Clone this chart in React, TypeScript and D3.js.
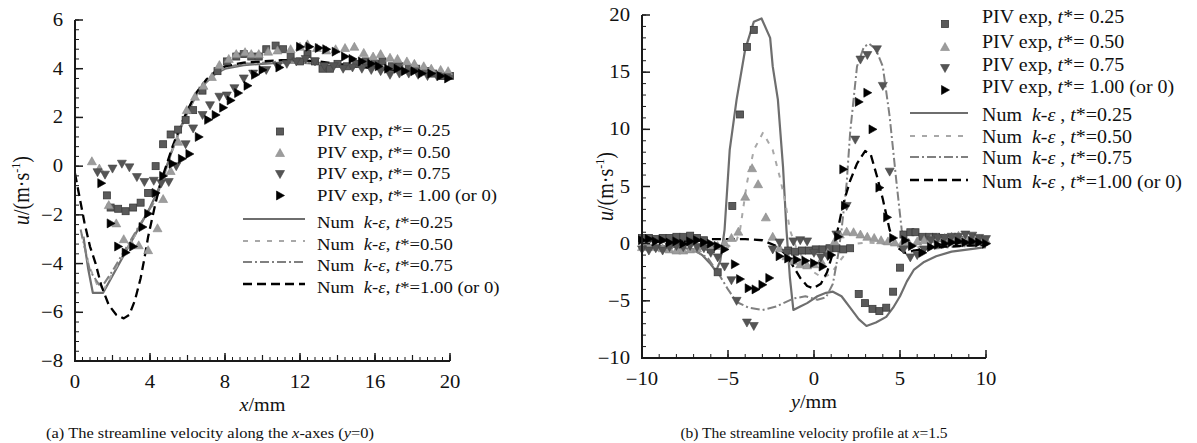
import React from "react";
import * as d3 from "d3";

type Pt = [number, number];

// ---------- (a) streamline velocity along x-axis ----------
const leftYTicks = [-8, -6, -4, -2, 0, 2, 4, 6];
const leftXTicks = [0, 4, 8, 12, 16, 20];

const pivA025: Pt[] = [
  [1.7, -1.2], [1.9, -1.7], [2.3, -1.75], [2.7, -1.85], [3.1, -1.7], [3.5, -1.5], [3.9, -1.1],
  [4.3, 0.0], [4.7, 0.9], [5.1, 1.3], [5.5, 1.5], [5.9, 1.9], [6.3, 2.3], [6.8, 3.1], [7.6, 3.9],
  [8.1, 4.3], [8.6, 4.5], [9.0, 4.6], [9.4, 4.5], [9.8, 4.5], [10.2, 4.8], [10.7, 4.95], [11.1, 4.8],
  [11.5, 4.5], [12.0, 4.3], [12.4, 4.6], [12.8, 4.3], [13.2, 4.0], [13.6, 4.0], [14.0, 4.2],
  [14.5, 4.1], [15.0, 4.2], [15.5, 4.3], [16.0, 4.2], [16.4, 4.3], [16.9, 4.1], [17.3, 4.1],
  [17.8, 4.0], [18.2, 4.0], [18.7, 3.9], [19.1, 3.8], [19.6, 3.7], [20.0, 3.7],
];
const pivA050: Pt[] = [
  [0.9, 0.2], [1.3, -0.1], [1.8, -1.6], [2.2, -2.35], [2.6, -3.0], [3.0, -3.2], [3.4, -3.25],
  [3.9, -3.45], [4.4, -2.55], [4.7, -1.35], [5.1, -0.2], [5.5, 1.0], [5.96, 2.3], [6.4, 2.85],
  [6.85, 3.3], [7.3, 3.66], [7.7, 4.15], [8.2, 4.4], [8.6, 4.6], [9.07, 4.68], [9.4, 4.6],
  [9.8, 4.6], [10.3, 4.7], [10.8, 4.75], [11.5, 4.8], [12.0, 4.9], [12.4, 5.0], [12.9, 4.85],
  [13.4, 4.75], [13.9, 4.8], [14.4, 4.85], [14.9, 4.9], [15.4, 4.65], [15.9, 4.5], [16.3, 4.6],
  [16.8, 4.45], [17.2, 4.4], [17.7, 4.3], [18.1, 4.2], [18.6, 4.1], [19.0, 4.0], [19.5, 3.95],
  [19.9, 3.9],
];
const pivA075: Pt[] = [
  [1.2, -0.25], [1.6, -0.35], [2.0, -0.1], [2.5, 0.1], [2.9, -0.05], [3.3, -0.45], [3.7, -0.65],
  [4.2, -0.6], [4.6, -0.7], [5.0, -0.65], [5.4, 0.0], [5.9, 0.9], [6.3, 1.55], [6.8, 2.1],
  [7.2, 2.5], [7.7, 2.85], [8.1, 2.9], [8.5, 3.2], [9.0, 3.6], [9.5, 3.8], [10.2, 3.95],
  [10.8, 4.1], [11.3, 4.2], [11.8, 4.3], [12.3, 4.4], [12.8, 4.3], [13.3, 4.1], [13.8, 4.1],
  [14.3, 4.0], [14.8, 4.05], [15.3, 4.0], [15.8, 3.95], [16.3, 3.9], [16.8, 3.75], [17.3, 3.8],
  [17.8, 3.8], [18.3, 3.75], [18.8, 3.7], [19.3, 3.7], [19.8, 3.65],
];
const pivA100: Pt[] = [
  [1.4, -0.7], [1.9, -2.35], [2.3, -3.3], [2.7, -3.55], [3.1, -3.3], [3.6, -2.5], [3.9, -1.95],
  [4.3, -1.1], [4.7, -0.4], [5.2, 0.1], [5.7, 0.3], [6.1, 0.5], [6.6, 1.2], [7.1, 1.9], [7.5, 2.1],
  [7.9, 2.4], [8.3, 2.7], [8.7, 3.0], [9.2, 3.3], [9.6, 3.75], [10.0, 3.95], [10.9, 4.05],
  [12.0, 4.9], [12.5, 4.9], [13.0, 4.85], [13.4, 4.8], [13.9, 4.7], [14.4, 4.5], [14.8, 4.4],
  [15.3, 4.3], [15.8, 4.2], [16.2, 4.1], [16.7, 4.0], [17.2, 4.0], [17.6, 3.9], [18.1, 3.9],
  [18.5, 3.8], [19.0, 3.8], [19.5, 3.7], [19.9, 3.6],
];

const numA025: Pt[] = [
  [0.45, -2.9], [0.7, -4.2], [0.95, -5.2], [1.5, -5.2], [2.0, -4.5], [2.5, -3.8], [3.0, -3.1],
  [3.5, -2.4], [4.0, -1.7], [4.4, -1.05], [4.8, -0.2], [5.2, 0.7], [5.6, 1.5], [6.0, 2.2],
  [6.5, 2.95], [7.0, 3.45], [7.5, 3.8], [8.0, 4.0], [9.0, 4.15], [10.0, 4.2], [11.0, 4.25],
  [12.0, 4.25], [13.0, 4.2], [14.0, 4.15], [15.0, 4.1], [16.0, 4.05], [17.0, 4.0], [18.0, 3.95],
  [19.0, 3.85], [20.0, 3.75],
];
const numA050: Pt[] = [
  [0.35, -2.8], [0.75, -4.1], [1.2, -4.9], [1.55, -5.05], [2.0, -4.4], [2.5, -3.75], [3.0, -3.1],
  [3.5, -2.45], [4.0, -1.8], [4.4, -1.2], [4.8, -0.3], [5.2, 0.65], [5.6, 1.5], [6.0, 2.2],
  [6.5, 2.95], [7.0, 3.5], [7.5, 3.85], [8.0, 4.05], [9.0, 4.2], [10.0, 4.25], [11.0, 4.3],
  [12.0, 4.28], [13.0, 4.22], [14.0, 4.15], [15.0, 4.1], [16.0, 4.05], [17.0, 4.0], [18.0, 3.95],
  [19.0, 3.85], [20.0, 3.75],
];
const numA075: Pt[] = [
  [0.3, -2.6], [0.8, -4.3], [1.4, -5.0], [2.0, -4.3], [2.5, -3.65], [3.0, -3.0], [3.5, -2.35],
  [4.0, -1.75], [4.4, -1.15], [4.8, -0.25], [5.2, 0.7], [5.6, 1.55], [6.0, 2.25], [6.5, 3.0],
  [7.0, 3.5], [7.5, 3.85], [8.0, 4.05], [9.0, 4.2], [10.0, 4.25], [11.0, 4.3], [12.0, 4.3],
  [13.0, 4.25], [14.0, 4.2], [15.0, 4.15], [16.0, 4.08], [17.0, 4.0], [18.0, 3.95], [19.0, 3.85],
  [20.0, 3.75],
];
const numA100: Pt[] = [
  [0.0, -0.3], [0.2, -1.1], [0.5, -2.3], [0.8, -3.3], [1.1, -4.0], [1.4, -4.9], [1.8, -5.7],
  [2.2, -6.1], [2.6, -6.25], [2.9, -6.1], [3.2, -5.5], [3.5, -4.6], [3.7, -3.8], [3.9, -2.9],
  [4.1, -2.2], [4.3, -1.5], [4.6, -0.6], [4.9, 0.1], [5.2, 0.8], [5.6, 1.6], [6.0, 2.3],
  [6.5, 3.05], [7.0, 3.55], [7.5, 3.9], [8.0, 4.1], [9.0, 4.25], [10.0, 4.3], [11.0, 4.35],
  [12.0, 4.35], [13.0, 4.3], [14.0, 4.2], [15.0, 4.1], [16.0, 4.0], [17.0, 3.95], [18.0, 3.88],
  [19.0, 3.8], [20.0, 3.72],
];

// ---------- (b) streamline velocity profile at x=1.5 ----------
const rightYTicks = [-10, -5, 0, 5, 10, 15, 20];
const rightXTicks = [-10, -5, 0, 5, 10];

const pivB025: Pt[] = [
  [-10, 0.5], [-9.6, 0.5], [-9.2, 0.4], [-8.8, 0.5], [-8.4, 0.5], [-8.0, 0.6], [-7.6, 0.6],
  [-7.2, 0.7], [-6.8, 0.5], [-6.4, 0.3], [-6.0, -0.5], [-5.6, -2.5], [-4.75, 3.3], [-4.3, 11.3],
  [-3.9, 17.2], [-3.5, 18.7], [-1.5, -0.6], [-1.1, -0.7], [-0.7, -0.6], [-0.3, -0.6], [0.1, -0.5],
  [0.5, -0.5], [0.9, -0.4], [1.3, -0.4], [1.7, -0.5], [2.1, -0.4], [2.6, -4.4], [2.97, -5.2],
  [3.4, -5.7], [3.8, -5.9], [4.2, -5.6], [4.6, -4.2], [5.0, -2.1], [5.2, 0.8], [5.6, 1.0],
  [5.9, 1.0], [6.3, 0.6], [6.7, 0.6], [7.1, 0.6], [7.5, 0.5], [7.9, 0.4], [8.3, 0.3], [8.7, 0.3],
  [9.1, 0.3], [9.5, 0.2], [9.9, 0.2],
];
const pivB050: Pt[] = [
  [-10, -0.3], [-9.6, -0.2], [-9.2, -0.3], [-8.8, -0.4], [-8.4, -0.5], [-8.0, -0.6], [-7.6, -0.6],
  [-7.2, -0.5], [-6.8, -0.4], [-6.4, -0.2], [-6.0, -0.3], [-5.6, -0.2], [-5.2, 0.1], [-4.8, 0.5],
  [-4.4, 1.05], [-4.0, 4.1], [-3.6, 6.6], [-3.25, 5.2], [-2.8, 2.3], [-2.4, 0.6], [-2.0, -0.4],
  [-1.6, -1.1], [-1.2, -1.5], [-0.8, -1.8], [-0.4, -1.9], [0.0, -1.8], [0.4, -1.5], [0.8, -0.8],
  [1.2, 0.2], [1.5, 0.8], [1.9, 1.05], [2.3, 1.0], [2.7, 0.8], [3.1, 0.6], [3.5, 0.5], [3.9, 0.3],
  [4.3, 0.2], [4.7, 0.1], [5.1, 0.0], [5.5, 0.1], [6.0, 0.2], [6.4, 0.3], [6.8, 0.4], [7.2, 0.5],
  [7.6, 0.5], [8.0, 0.6], [8.4, 0.7], [8.8, 0.6], [9.2, 0.5], [9.6, 0.4], [10.0, 0.3],
];
const pivB075: Pt[] = [
  [-10, -0.5], [-9.6, -0.6], [-9.2, -0.4], [-8.8, -0.6], [-8.4, -0.3], [-8.0, -0.2], [-7.6, -0.3],
  [-7.2, -0.2], [-6.8, -0.3], [-6.4, -0.4], [-6.0, -0.8], [-5.6, -1.2], [-5.2, -2.0], [-4.8, -3.2],
  [-4.5, -5.0], [-3.9, -6.9], [-3.5, -7.2], [-2.4, -0.5], [-2.0, 0.1], [-1.6, -0.8], [-1.2, 0.2],
  [-0.8, 0.3], [-0.4, 0.2], [0.0, -0.8], [0.4, -1.2], [0.8, -1.1], [1.3, 0.8], [1.9, 3.3],
  [2.4, 9.1], [2.7, 16.1], [3.1, 16.5], [3.66, 17.0], [4.0, 13.8], [4.4, 6.3], [5.2, -0.5],
  [5.6, -1.2], [6.0, -1.0], [6.4, -0.5], [6.8, 0.3], [7.2, 0.5], [7.6, 0.5], [8.0, 0.6], [8.4, 0.6],
  [8.8, 0.8], [9.2, 0.7], [9.6, 0.5], [10.0, 0.4],
];
const pivB100: Pt[] = [
  [-10, 0.3], [-9.6, 0.4], [-9.2, 0.2], [-8.8, 0.3], [-8.4, 0.1], [-8.0, 0.2], [-7.6, 0.0],
  [-7.2, 0.2], [-6.8, 0.3], [-6.4, 0.1], [-6.0, 0.0], [-5.6, -0.2], [-5.2, -0.5], [-4.6, -1.8],
  [-4.3, -3.1], [-3.8, -3.9], [-3.4, -4.0], [-3.0, -3.6], [-2.6, -3.0], [-2.0, -1.1], [-1.5, -1.3],
  [-1.0, -1.4], [-0.5, -1.5], [0.0, -1.7], [0.5, -2.0], [1.0, -1.0], [1.4, 0.6], [1.8, 3.3],
  [1.7, 6.5], [2.6, 12.4], [3.1, 13.2], [3.4, 10.0], [3.8, 4.9], [4.25, 2.3], [4.6, 0.5],
  [5.3, 0.3], [5.7, -0.2], [6.3, -0.8], [6.8, -0.3], [7.2, -0.1], [7.6, 0.0], [8.0, 0.1],
  [8.4, 0.2], [8.8, 0.1], [9.2, 0.2], [9.6, 0.1], [10.0, 0.0],
];

const numB025: Pt[] = [
  [-10, -0.2], [-9, -0.2], [-8, -0.3], [-7, -0.5], [-6.5, -1.0], [-6.0, -1.8], [-5.7, -2.4],
  [-5.45, -1.5], [-5.2, 1.2], [-4.9, 8.2], [-4.5, 12.6], [-4.0, 17.0], [-3.5, 19.4], [-3.05, 19.7],
  [-2.55, 18.0], [-2.4, 15.5], [-2.1, 12.6], [-1.8, 6.7], [-1.6, 1.2], [-1.4, -3.0], [-1.2, -5.8],
  [-0.8, -5.5], [-0.4, -5.2], [0.2, -4.6], [0.7, -4.3], [1.1, -4.2], [1.6, -4.6], [2.1, -5.6],
  [2.6, -6.6], [3.05, -7.2], [3.6, -6.9], [4.2, -6.4], [4.6, -5.6], [5.0, -4.6], [5.4, -3.3],
  [5.8, -2.3], [6.4, -1.6], [7.1, -1.1], [8.0, -0.7], [9.0, -0.5], [10, -0.3],
];
const numB050: Pt[] = [
  [-10, -0.5], [-8, -0.6], [-6, -0.5], [-5, -0.3], [-4.5, 0.3], [-4.3, 1.2], [-3.9, 5.3],
  [-3.5, 8.2], [-2.97, 9.7], [-2.4, 8.2], [-2.0, 5.9], [-1.7, 3.9], [-1.4, 1.2], [-1.0, -0.5],
  [-0.5, -1.5], [0.0, -2.5], [0.5, -3.0], [1.0, -2.6], [1.5, -1.5], [2.0, -0.6], [2.5, 0.0],
  [3, 0.1], [4, 0.0], [5, -0.1], [6, -0.3], [7, -0.3], [8, -0.2], [9, -0.1], [10, 0.0],
];
const numB075: Pt[] = [
  [-10, -0.3], [-8, -0.4], [-7, -0.6], [-6.2, -1.2], [-5.6, -2.5], [-5.0, -4.0], [-4.5, -5.1],
  [-3.8, -5.6], [-3.0, -5.8], [-2.2, -5.5], [-1.2, -4.8], [-0.5, -4.6], [0.2, -4.9], [0.7, -4.7],
  [1.1, -3.5], [1.4, -1.0], [1.6, 1.2], [1.9, 5.3], [2.1, 9.7], [2.5, 15.5], [2.9, 17.2],
  [3.2, 17.5], [3.6, 17.0], [4.0, 15.5], [4.4, 11.1], [4.8, 5.3], [5.1, 1.2], [5.4, -0.3],
  [5.8, -0.6], [6.5, -0.5], [8, -0.3], [10, -0.1],
];
const numB100: Pt[] = [
  [-10, 0.2], [-8, 0.2], [-6, 0.4], [-5, 0.4], [-4, 0.4], [-3, 0.3], [-2.2, -0.2], [-1.6, -1.0],
  [-1.2, -2.0], [-0.8, -3.0], [-0.4, -3.7], [-0.05, -3.9], [0.4, -3.5], [0.76, -2.5], [1.1, -0.8],
  [1.35, 1.0], [1.7, 3.5], [2.1, 5.5], [2.5, 7.0], [2.97, 8.1], [3.3, 7.8], [3.66, 5.9], [4.0, 3.9],
  [4.4, 1.2], [4.8, -0.3], [5.3, -0.8], [5.8, -0.6], [7, -0.3], [8.5, -0.2], [10, -0.1],
];

const tLabels = ["0.25", "0.50", "0.75", "1.00 (or 0)"];

const serif = "'Liberation Serif', 'Times New Roman', serif";

type Shape = "square" | "up" | "down" | "right";
const markerStyles: { shape: Shape; fill: string; stroke: string }[] = [
  { shape: "square", fill: "#5a5a5a", stroke: "#3a3a3a" },
  { shape: "up", fill: "#9c9c9c", stroke: "#8a8a8a" },
  { shape: "down", fill: "#555", stroke: "#444" },
  { shape: "right", fill: "#000", stroke: "#000" },
];
const lineStyles = [
  { stroke: "#6e6e6e", width: 2.2, dash: "" },
  { stroke: "#a8a8a8", width: 2, dash: "5,7" },
  { stroke: "#808080", width: 2, dash: "9,3,2,3" },
  { stroke: "#000", width: 2.3, dash: "9,5" },
];

// stretched text (the reference type is set wide)
function T({ x, y, size, sx = 1.12, anchor = "start", children }: {
  x: number; y: number; size: number; sx?: number; anchor?: string; children: React.ReactNode;
}) {
  return (
    <text transform={`translate(${x},${y}) scale(${sx},1)`} fontSize={size} textAnchor={anchor} xmlSpace="preserve">
      {children}
    </text>
  );
}

function Marker({ x, y, i }: { x: number; y: number; i: number }) {
  const m = markerStyles[i];
  const s = 4;
  if (m.shape === "square")
    return <rect x={x - s + 0.5} y={y - s + 0.5} width={2 * s - 1} height={2 * s - 1} fill={m.fill} stroke={m.stroke} strokeWidth={0.8} />;
  let p = "";
  if (m.shape === "up") p = `M${x},${y - s - 0.5}L${x + s + 0.5},${y + s - 0.5}L${x - s - 0.5},${y + s - 0.5}Z`;
  if (m.shape === "down") p = `M${x},${y + s + 0.5}L${x + s + 0.5},${y - s + 0.5}L${x - s - 0.5},${y - s + 0.5}Z`;
  if (m.shape === "right") p = `M${x + s + 0.5},${y}L${x - s + 0.5},${y - s - 0.5}L${x - s + 0.5},${y + s + 0.5}Z`;
  return <path d={p} fill={m.fill} stroke={m.stroke} strokeWidth={0.6} />;
}

interface PanelProps {
  xDomain: [number, number];
  yDomain: [number, number];
  xRange: [number, number];
  yRange: [number, number];
  xTicks: number[];
  yTicks: number[];
  xMinor: number;
  yMinor: number;
  xMid?: number;
  pivs: Pt[][];
  nums: Pt[][];
  xLabel: string;
  yLabelX: number;
}

function Panel(p: PanelProps) {
  const x = d3.scaleLinear().domain(p.xDomain).range(p.xRange);
  const y = d3.scaleLinear().domain(p.yDomain).range(p.yRange);
  const line = d3.line<Pt>().x((d) => x(d[0])).y((d) => y(d[1]));
  const fmt = d3.format("");
  const x0 = p.xRange[0];
  const yb = p.yRange[0];
  const xMinorTicks = d3.range(p.xDomain[0], p.xDomain[1] + 1e-6, p.xMinor);
  const yMinorTicks = d3.range(p.yDomain[0], p.yDomain[1] + 1e-6, p.yMinor);
  const xMidTicks = p.xMid ? d3.range(p.xDomain[0], p.xDomain[1] + 1e-6, p.xMid) : [];
  const ax = "#1a1a1a";
  return (
    <g>
      {p.nums.map((d, i) => (
        <path key={"n" + i} d={line(d) || ""} fill="none" stroke={lineStyles[i].stroke} strokeWidth={lineStyles[i].width} strokeDasharray={lineStyles[i].dash} strokeLinejoin="round" />
      ))}
      {p.pivs.map((d, i) => (
        <g key={"p" + i}>
          {d.map((v, j) => (
            <Marker key={j} x={x(v[0])} y={y(v[1])} i={i} />
          ))}
        </g>
      ))}
      <line x1={x0} x2={x0} y1={p.yRange[1]} y2={yb} stroke={ax} strokeWidth={2} />
      <line x1={x0 - 1} x2={p.xRange[1]} y1={yb} y2={yb} stroke={ax} strokeWidth={2} />
      {yMinorTicks.map((t, i) => (
        <line key={"ym" + i} x1={x0} x2={x0 + 4} y1={y(t)} y2={y(t)} stroke={ax} strokeWidth={1} />
      ))}
      {p.yTicks.map((t) => (
        <g key={"y" + t}>
          <line x1={x0} x2={x0 + 8} y1={y(t)} y2={y(t)} stroke={ax} strokeWidth={1.5} />
          <T x={x0 - 12} y={y(t) + 6} size={18} sx={1.15} anchor="end">{fmt(t)}</T>
        </g>
      ))}
      {xMinorTicks.map((t, i) => (
        <line key={"xm" + i} x1={x(t)} x2={x(t)} y1={yb} y2={yb - 4} stroke={ax} strokeWidth={1} />
      ))}
      {xMidTicks.map((t, i) => (
        <line key={"xd" + i} x1={x(t)} x2={x(t)} y1={yb} y2={yb - 6} stroke={ax} strokeWidth={1.2} />
      ))}
      {p.xTicks.map((t) => (
        <g key={"x" + t}>
          <line x1={x(t)} x2={x(t)} y1={yb} y2={yb - 8} stroke={ax} strokeWidth={1.5} />
          <T x={x(t)} y={yb + 27} size={18} sx={1.15} anchor="middle">{fmt(t)}</T>
        </g>
      ))}
      <T x={(p.xRange[0] + p.xRange[1]) / 2} y={yb + 50} size={18} sx={1.12} anchor="middle">
        <tspan fontStyle="italic">{p.xLabel}</tspan>/mm
      </T>
      <text transform={`translate(${p.yLabelX},${(p.yRange[0] + p.yRange[1]) / 2}) rotate(-90) scale(1,1.12)`} textAnchor="middle" fontSize={20}>
        <tspan fontStyle="italic">u</tspan>/(m·s<tspan dy={-8} fontSize={12}>-1</tspan><tspan dy={8}>)</tspan>
      </text>
    </g>
  );
}

function Legend({ mx, lx1, lx2, tx, size, sx, pivRows, numRows, lineRows, markRows, spaced }: {
  mx: number; lx1: number; lx2: number; tx: number; size: number; sx: number;
  pivRows: number[]; numRows: number[]; lineRows: number[]; markRows: number[]; spaced: boolean;
}) {
  return (
    <g>
      {tLabels.map((t, i) => (
        <g key={"lp" + i}>
          <Marker x={mx} y={markRows[i]} i={i} />
          <T x={tx} y={pivRows[i]} size={size} sx={sx}>
            PIV exp, <tspan fontStyle="italic">t</tspan>*= {t}
          </T>
        </g>
      ))}
      {tLabels.map((t, i) => (
        <g key={"ln" + i}>
          <line x1={lx1} x2={lx2} y1={lineRows[i]} y2={lineRows[i]} stroke={lineStyles[i].stroke} strokeWidth={lineStyles[i].width} strokeDasharray={lineStyles[i].dash} />
          <T x={tx} y={numRows[i]} size={size} sx={sx}>
            {"Num  "}<tspan fontStyle="italic">k</tspan>-<tspan fontStyle="italic">ε</tspan>{spaced ? " , " : ", "}<tspan fontStyle="italic">t</tspan>*={t}
          </T>
        </g>
      ))}
    </g>
  );
}

export default function App() {
  return (
    <svg width={1197} height={443} style={{ position: "absolute", left: 0, top: 0, background: "#fff" }} fontFamily={serif} fill="#111">
      <Panel
        xDomain={[0, 20]} yDomain={[-8, 6]} xRange={[75, 450]} yRange={[361, 20]}
        xTicks={leftXTicks} yTicks={leftYTicks} xMinor={0.4} yMinor={0.4} xMid={2}
        pivs={[pivA025, pivA050, pivA075, pivA100]} nums={[numA025, numA050, numA075, numA100]}
        xLabel="x" yLabelX={29}
      />
      <Panel
        xDomain={[-10, 10]} yDomain={[-10, 20]} xRange={[642, 986]} yRange={[358, 15]}
        xTicks={rightXTicks} yTicks={rightYTicks} xMinor={1} yMinor={1}
        pivs={[pivB025, pivB050, pivB075, pivB100]} nums={[numB025, numB050, numB075, numB100]}
        xLabel="y" yLabelX={613}
      />
      <Legend mx={280} lx1={243} lx2={305} tx={317} size={17} sx={1.1}
        pivRows={[136, 158, 179, 201]} markRows={[131.5, 153, 174, 195.5]}
        numRows={[228, 249.5, 271, 292.5]} lineRows={[219, 241, 262, 284]} spaced={false} />
      <Legend mx={945} lx1={910} lx2={968} tx={982} size={18} sx={1.11}
        pivRows={[23, 48, 71, 93]} markRows={[24, 47, 68, 90]}
        numRows={[121, 143, 164, 188]} lineRows={[113, 136, 157, 180]} spaced={true} />
      <T x={210} y={438} size={15.5} sx={1.06} anchor="middle">
        (a) The streamline velocity along the <tspan fontStyle="italic">x</tspan>-axes (<tspan fontStyle="italic">y</tspan>=0)
      </T>
      <T x={814} y={438} size={15.5} sx={1.0} anchor="middle">
        (b) The streamline velocity profile at <tspan fontStyle="italic">x</tspan>=1.5
      </T>
    </svg>
  );
}
